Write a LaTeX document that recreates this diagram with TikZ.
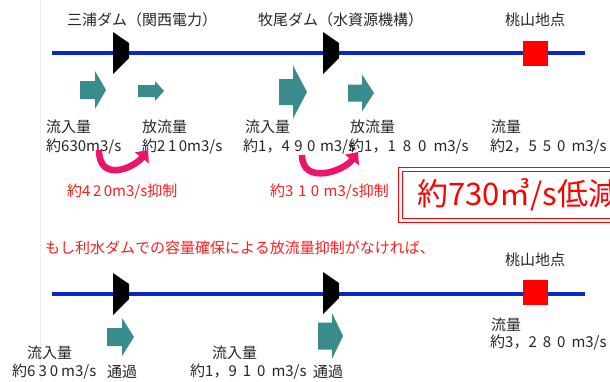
\documentclass[tikz,border=0pt]{standalone}
\usepackage{fontspec}
\setmainfont{Noto Sans CJK JP}
\usepackage{tikz}
\usetikzlibrary{arrows.meta}

\definecolor{riverblue}{RGB}{10,40,200}
\definecolor{flowteal}{RGB}{58,140,140}
\definecolor{cutpink}{RGB}{238,20,110}
\definecolor{notered}{RGB}{255,30,30}
\newcommand{\dg}[1]{\hspace{#1pt}}
% block arrow: tip x, tip y, length, head half width, shaft half width, head length
\newcommand{\flowarrow}[6]{%
  \fill[flowteal] (#1,#2) -- ++(-#6,-#4) -- ++(0,#4-#5) -- ++(#6-#3,0)
    -- ++(0,2*#5) -- ++(#3-#6,0) -- ++(0,#4-#5) -- cycle;}

\begin{document}
\begin{tikzpicture}[x=1pt, y=-1pt,
    river/.style={draw=riverblue, line width=3.5pt},
    dam/.pic={\fill[black] (-8,-21) -- (8,-10) -- (8,5) -- (-8,21) -- cycle;},
    gauge/.style={rectangle, fill=red, minimum size=25pt, inner sep=0pt},
    lbl/.style={anchor=west, inner sep=0pt, text=black!85, font=\fontsize{15}{17}\selectfont},
    note/.style={lbl, text=notered},
    cutarrow/.style={draw=cutpink, line width=6.5pt, -{Triangle[length=10pt,width=17pt]}},
    cutbox/.style={draw=red, double=white, double distance=2.6pt, line width=1.2pt, anchor=west,
        minimum height=51pt, text width=216pt, inner xsep=16.5pt, align=left, text=red,
        font=\fontsize{31}{34}\selectfont}
]

% frame
\useasboundingbox (0,0) rectangle (610,381);
\fill[white] (0,0) rectangle (610,381);
\clip (0,0) rectangle (610,381);
\draw[black!7] (40,0) -- (40,381);

% Upper river: release held back by the dams
\coordinate (upS) at (52,53);
\coordinate (upE) at (585,53);
\draw[river] (upS) -- (upE);
\node[lbl] (nameA) at (67,20) {三浦ダム（関西電力）};
\node[lbl] (nameB) at (258,20) {牧尾ダム（水資源機構）};
\node[lbl] (nameG) at (505,20) {桃山地点};

\flowarrow{106}{90}{26}{19}{9}{11}
\flowarrow{164}{91}{26}{10}{6}{9}
\flowarrow{307}{92}{28}{26.5}{13}{14}
\flowarrow{374}{93}{26}{18.5}{8.5}{12}

\pic at (121,53) {dam};
\pic at (331,53) {dam};
\node[gauge] (gaugeUp) at (535.5,53.5) {};

\node[lbl] (inA) at (46,127) {流入量};
\node[lbl] (inAq) at (46,147) {約630m3/s};
\node[lbl] (outA) at (142,127) {放流量};
\node[lbl] (outAq) at (142,147) {約2\dg{2.5}1\dg{2.5}0m3/s};
\node[lbl] (inB) at (245,127) {流入量};
\node[lbl] (inBq) at (243,147) {約1，4\dg{4.5}9\dg{4.5}0\dg{4.5}m3/s};
\node[lbl] (outB) at (350,127) {放流量};
\node[lbl] (outBq) at (349,147) {約1，1\dg{7}8\dg{7}0\dg{7}m3/s};
\node[lbl] (gUp) at (491,127) {流量};
\node[lbl] (gUpq) at (490,147) {約2，5\dg{6}5\dg{6}0\dg{6}m3/s};

% held-back amounts
\coordinate (cutA0) at (99,150);
\coordinate (cutA1) at (148,150);
\draw[cutarrow] (cutA0) .. controls (99,183) and (134,168) .. (cutA1);
\coordinate (cutB0) at (302,155);
\coordinate (cutB1) at (358,152);
\draw[cutarrow] (cutB0) .. controls (302,185) and (343,172) .. (cutB1);
\node[note] (cutAq) at (67,192) {約4\dg{2.5}2\dg{2.5}0m3/s抑制};
\node[note] (cutBq) at (270,192) {約3\dg{4.5}1\dg{4.5}0\dg{4.5}m3/s抑制};

\node[cutbox] (cut) at (400,195) {約730㎥/s低減};

% Lower river: no release control
\node[note] (ifnot) at (45,248) {もし利水ダムでの容量確保による放流量抑制がなければ、};
\coordinate (lowS) at (52,294);
\coordinate (lowE) at (585,294);
\draw[river] (lowS) -- (lowE);
\node[lbl] (nameG2) at (505,260) {桃山地点};

\flowarrow{134}{337}{27}{19}{9}{12}
\flowarrow{343}{336}{25}{23}{13.5}{11}

\pic at (121,294) {dam};
\pic at (331,293) {dam};
\node[gauge] (gaugeLow) at (535.5,292) {};

\node[lbl] (inA2) at (27,353) {流入量};
\node[lbl] (inA2q) at (12,372) {約6\dg{3}3\dg{3}0\dg{3}m3/s};
\node[lbl] (passA) at (107,372) {通過};
\node[lbl] (inB2) at (212,353) {流入量};
\node[lbl] (inB2q) at (190,372) {約1，9\dg{6}1\dg{6}0\dg{6}m3/s};
\node[lbl] (passB) at (313,372) {通過};
\node[lbl] (gLow) at (491,325) {流量};
\node[lbl] (gLowq) at (490,343) {約3，2\dg{6}8\dg{6}0\dg{6}m3/s};
\end{tikzpicture}
\end{document}
